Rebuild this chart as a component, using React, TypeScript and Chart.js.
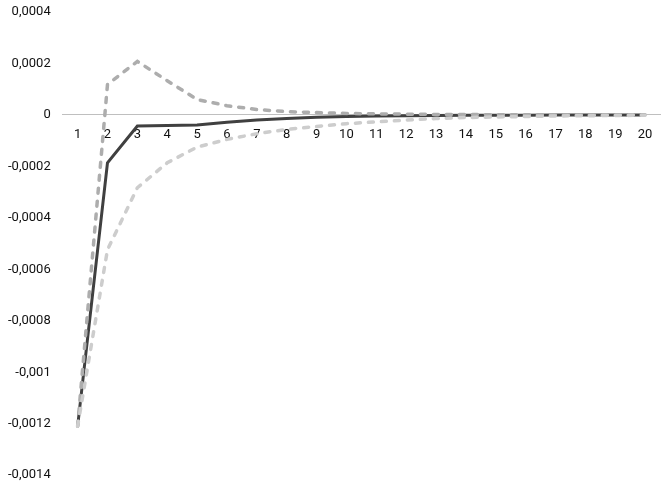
import React, { useEffect, useRef } from "react";
import { Chart, registerables } from "chart.js";

Chart.register(...registerables);

const categories = ["1","2","3","4","5","6","7","8","9","10","11","12","13","14","15","16","17","18","19","20"];
const solidSeries = [-0.00121, -0.000186, -0.000043, -0.000041, -0.000039, -0.000028, -0.00002, -0.000014, -0.000009, -0.000006, -0.000004, -0.000003, -0.000002, -0.0000015, -0.000001, -0.0000008, -0.0000006, -0.0000005, -0.0000004, -0.0000003];
const upperSeries = [-0.00121, 0.000118, 0.000208, 0.000133, 0.00006, 0.000036, 0.000021, 0.000013, 0.000009, 0.000006, 0.000004, 0.000003, 0.000002, 0.0000015, 0.000001, 0.0000008, 0.0000006, 0.0000005, 0.0000004, 0.0000003];
const lowerSeries = [-0.00121, -0.000524, -0.000283, -0.000186, -0.000125, -0.000095, -0.000073, -0.000056, -0.000045, -0.000034, -0.000027, -0.00002, -0.000014, -0.00001, -0.000008, -0.000006, -0.000004, -0.000003, -0.000002, -0.0000015];
const yMin = -0.0014;
const yMax = 0.0004;
const yStep = 0.0002;

const formatTick = (v: number) => {
  const n = Number(v.toFixed(4));
  if (n === 0) return "0";
  return n.toString().replace(".", ",");
};

export default function App() {
  const ref = useRef<HTMLCanvasElement | null>(null);
  useEffect(() => {
    if (!ref.current) return;
    const chart = new Chart(ref.current, {
      type: "line",
      data: {
        labels: categories,
        datasets: [
          { label: "lower", data: lowerSeries, borderColor: "#CDCDCD", borderWidth: 3.5, borderDash: [5, 8], borderCapStyle: "round", pointRadius: 0, tension: 0, fill: false },
          { label: "upper", data: upperSeries, borderColor: "#ADADAD", borderWidth: 3.5, borderDash: [5, 8], borderCapStyle: "round", pointRadius: 0, tension: 0, fill: false },
          { label: "irf", data: solidSeries, borderColor: "#404040", borderWidth: 3, pointRadius: 0, tension: 0, fill: false },
        ],
      },
      options: {
        animation: false,
        responsive: false,
        maintainAspectRatio: false,
        layout: { padding: { top: 12, right: 3, bottom: 11, left: 4 } },
        plugins: { legend: { display: false }, tooltip: { enabled: false } },
        scales: {
          x: {
            type: "category",
            position: { y: 0 },
            offset: true,
            grid: { display: false },
            border: { display: true, color: "#BFBFBF", width: 1 },
            ticks: { color: "#111", font: { family: "Roboto", size: 13 }, padding: 4, maxRotation: 0, autoSkip: false },
          },
          y: {
            min: yMin,
            max: yMax,
            grid: { display: false },
            border: { display: false },
            ticks: {
              stepSize: yStep,
              color: "#111",
              font: { family: "Roboto", size: 13 },
              padding: 4,
              callback: (v: any) => formatTick(Number(v)),
            },
          },
        },
      },
    });
    return () => chart.destroy();
  }, []);
  return (
    <div style={{ position: "fixed", left: 0, top: 0, width: 663, height: 487, background: "#fff" }}>
      <canvas ref={ref} width={663} height={487} style={{ width: 663, height: 487 }} />
    </div>
  );
}
